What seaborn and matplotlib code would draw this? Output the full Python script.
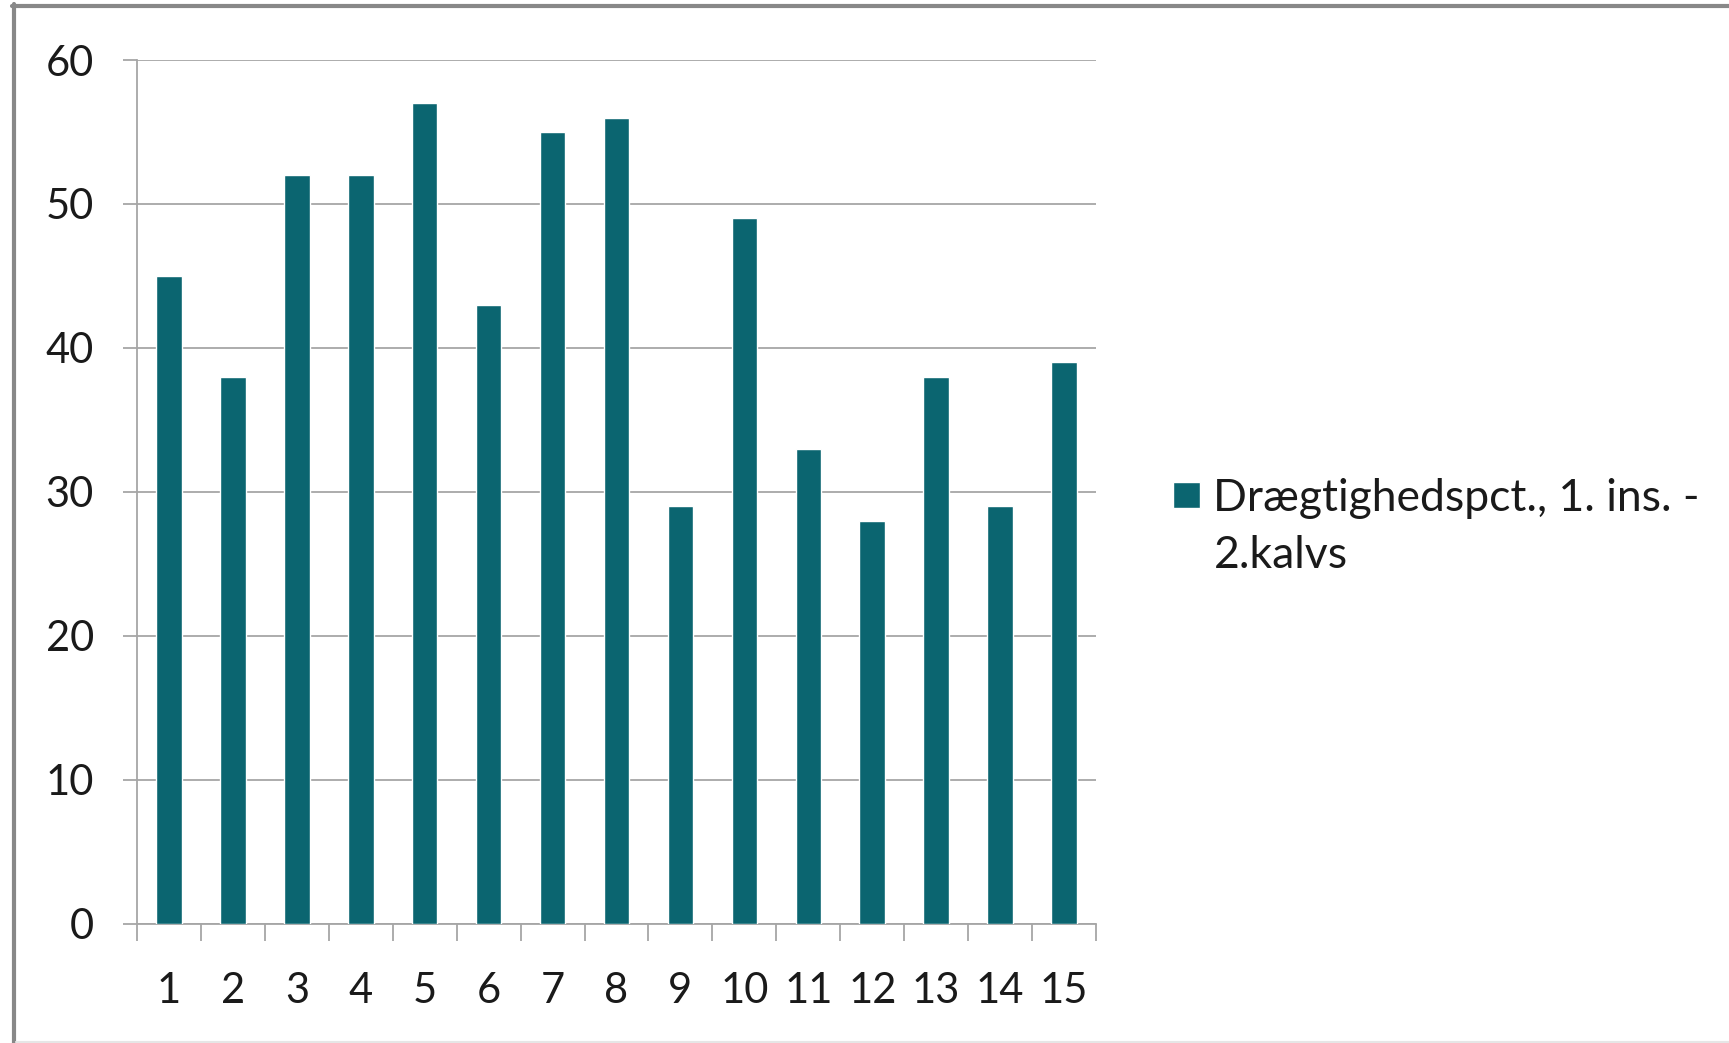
import matplotlib
matplotlib.use("Agg")
import matplotlib.pyplot as plt
from matplotlib.lines import Line2D
from matplotlib.patches import Rectangle
from matplotlib.container import BarContainer
from matplotlib.legend_handler import HandlerPatch, update_from_first_child
from matplotlib.ticker import FixedLocator
import seaborn as sns
import pandas as pd

# Pregnancy rate per group, first insemination, second-calvers
groups = [str(i) for i in range(1, 16)]
values = [45, 38, 52, 52, 57, 43, 55, 56, 29, 49, 33, 28, 38, 29, 39]
series_label = "Drægtighedspct., 1. ins. -\n2.kalvs"
y_ticks = [0, 10, 20, 30, 40, 50, 60]

bar_color = "#0B6570"
axis_gray = "#A6A6A6"
text_color = "#1a1a1a"

sns.set_theme(style="white")
plt.rcParams["font.family"] = ["Lato", "DejaVu Sans"]

W, H, DPI = 1729, 1043, 100
fig = plt.figure(figsize=(W / DPI, H / DPI), dpi=DPI)
fig.patch.set_facecolor("white")

left, right, top, bottom = 137, 1096, 60, 923.7
ax = fig.add_axes([left / W, 1 - bottom / H, (right - left) / W, (bottom - top) / H])

df = pd.DataFrame({"group": groups, "value": values})
sns.barplot(data=df, x="group", y="value", color=bar_color, width=0.4,
            saturation=1, label=series_label, ax=ax, zorder=3)

ax.set_xlim(-0.5, len(groups) - 0.5)
ax.set_ylim(0, 60)
ax.set_yticks(y_ticks)
ax.set_xlabel("")
ax.set_ylabel("")

# category boundary ticks below the axis, labels at category centers
ax.xaxis.set_minor_locator(FixedLocator([i - 0.5 for i in range(len(groups) + 1)]))
ax.tick_params(axis="x", which="major", length=0, pad=35, labelsize=30, labelcolor=text_color)
ax.tick_params(axis="x", which="minor", length=12.5, width=1.3, color=axis_gray, bottom=True)
ax.tick_params(axis="y", which="major", length=10, width=1.3, color=axis_gray, left=True,
               pad=21, labelsize=30, labelcolor=text_color)

ax.grid(axis="y", color=axis_gray, linewidth=1.3, zorder=0)
ax.set_axisbelow(True)
for side in ("top", "right"):
    ax.spines[side].set_visible(False)
for side in ("left", "bottom"):
    ax.spines[side].set_color(axis_gray)
    ax.spines[side].set_linewidth(1.3)


def top_square(legend, orig_handle, xdescent, ydescent, width, height, fontsize):
    # square swatch aligned with the first line of a wrapped label
    s = width
    return Rectangle((-xdescent, -ydescent + height - s + 0.19 * fontsize), s, s)


fs = 32
leg = ax.legend(loc="upper left", bbox_to_anchor=(1173 / W, 1 - 478 / H),
                bbox_transform=fig.transFigure, frameon=False, fontsize=fs,
                handlelength=0.6, handleheight=2.4, handletextpad=0.31,
                borderpad=0, borderaxespad=0,
                handler_map={BarContainer: HandlerPatch(patch_func=top_square,
                                                        update_func=update_from_first_child)})
for t in leg.get_texts():
    t.set_color(text_color)
    t.set_linespacing(1.5)

# outer chart frame
frame = "#888888"
fig.add_artist(Line2D([12 / W, 1], [1 - 6 / H, 1 - 6 / H], transform=fig.transFigure,
                      color=frame, linewidth=3))
fig.add_artist(Line2D([14 / W, 14 / W], [0, 1 - 4 / H], transform=fig.transFigure,
                      color=frame, linewidth=3))
fig.add_artist(Line2D([16 / W, 1], [1.5 / H, 1.5 / H], transform=fig.transFigure,
                      color="#E6E6E6", linewidth=1.5))

fig.savefig("out.png", dpi=DPI)
